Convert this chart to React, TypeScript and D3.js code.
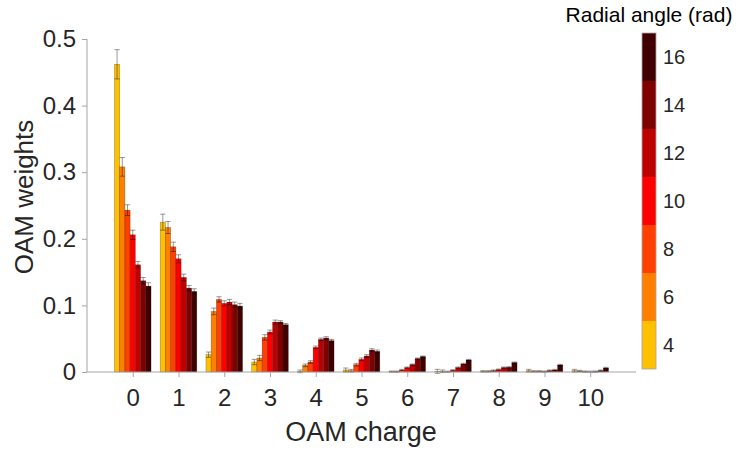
import { useEffect, useRef } from 'react';
import * as d3 from 'd3';

// OAM charge categories and radial angles (rad) of the series
const charges = [0, 1, 2, 3, 4, 5, 6, 7, 8, 9, 10];
const angles = [4, 6, 8, 10, 12, 14, 16];
const angleColors = ['#ffc000', '#ff8000', '#ff4000', '#ff0000', '#bf0000', '#800000', '#400000'];

// weights, one array per radial angle (indexed by charge)
const w4 = [0.462, 0.225, 0.026, 0.015, 0.001, 0.003, 0.0005, 0.001, 0.001, 0.002, 0.002];
const w6 = [0.308, 0.217, 0.091, 0.021, 0.01, 0.002, 0.0005, 0.001, 0.001, 0.001, 0.0015];
const w8 = [0.243, 0.188, 0.109, 0.052, 0.015, 0.011, 0.003, 0.0003, 0.002, 0.001, 0.0005];
const w10 = [0.206, 0.17, 0.103, 0.06, 0.037, 0.019, 0.0065, 0.0025, 0.0035, 0.0005, 0.0003];
const w12 = [0.161, 0.142, 0.105, 0.075, 0.049, 0.024, 0.011, 0.0065, 0.0065, 0.002, 0.0005];
const w14 = [0.137, 0.126, 0.101, 0.075, 0.051, 0.033, 0.02, 0.012, 0.007, 0.003, 0.002];
const w16 = [0.129, 0.121, 0.099, 0.071, 0.047, 0.031, 0.023, 0.018, 0.014, 0.0105, 0.006];

// error bar half-heights
const e4 = [0.022, 0.012, 0.004, 0.004, 0.002, 0.003, 0.001, 0.003, 0.001, 0.002, 0.002];
const e6 = [0.014, 0.009, 0.005, 0.004, 0.002, 0.002, 0.001, 0.002, 0.001, 0.001, 0.001];
const e8 = [0.008, 0.007, 0.004, 0.004, 0.002, 0.002, 0.001, 0.001, 0.001, 0.001, 0.001];
const e10 = [0.007, 0.006, 0.004, 0.003, 0.002, 0.002, 0.001, 0.001, 0.001, 0.001, 0.001];
const e12 = [0.005, 0.005, 0.004, 0.003, 0.002, 0.002, 0.001, 0.001, 0.001, 0.001, 0.001];
const e14 = [0.005, 0.004, 0.004, 0.002, 0.002, 0.002, 0.001, 0.001, 0.001, 0.001, 0.001];
const e16 = [0.005, 0.004, 0.004, 0.002, 0.002, 0.002, 0.001, 0.001, 0.001, 0.001, 0.001];

const weights = [w4, w6, w8, w10, w12, w14, w16];
const errors = [e4, e6, e8, e10, e12, e14, e16];

const yTicks = [0, 0.1, 0.2, 0.3, 0.4, 0.5];
const cbTicks = [4, 6, 8, 10, 12, 14, 16];

const FONT = '"Liberation Sans", Arial, Helvetica, sans-serif';
const TEXT = '#262626';
const AXIS = '#a6a6a6';

export default function App() {
  const svgRef = useRef<SVGSVGElement>(null);

  useEffect(() => {
    if (!svgRef.current) return;
    const svg = d3.select(svgRef.current);
    svg.selectAll('*').remove();

    const x = d3.scaleLinear().domain([-1, 11]).range([87, 636]);
    const y = d3.scaleLinear().domain([0, 0.5]).range([372, 39]);
    const groupW = 0.8;
    const barW = groupW / angles.length;
    const unit = x(1) - x(0);

    const g = svg.append('g');

    // bars
    angles.forEach((a, si) => {
      const layer = g.append('g');
      charges.forEach((c, ci) => {
        const x0 = x(c - groupW / 2 + si * barW);
        const v = weights[si][ci];
        layer.append('rect')
          .attr('x', x0)
          .attr('y', y(v))
          .attr('width', barW * unit)
          .attr('height', y(0) - y(v))
          .attr('fill', angleColors[si])
          .attr('stroke', '#000')
          .attr('stroke-opacity', 0.35)
          .attr('stroke-width', 0.6);
      });
    });

    // error bars
    angles.forEach((a, si) => {
      charges.forEach((c, ci) => {
        const cx = x(c - groupW / 2 + (si + 0.5) * barW);
        const v = weights[si][ci];
        const e = errors[si][ci];
        const hw = barW * unit * 0.5;
        const eb = g.append('g')
          .attr('stroke', '#000')
          .attr('stroke-opacity', 0.4)
          .attr('stroke-width', 1);
        eb.append('line').attr('x1', cx).attr('x2', cx).attr('y1', y(v - e)).attr('y2', y(v + e));
        eb.append('line').attr('x1', cx - hw).attr('x2', cx + hw).attr('y1', y(v + e)).attr('y2', y(v + e));
        eb.append('line').attr('x1', cx - hw).attr('x2', cx + hw).attr('y1', y(v - e)).attr('y2', y(v - e));
      });
    });

    // axes
    const xAxis = g.append('g')
      .attr('transform', `translate(0, ${y(0)})`)
      .call(d3.axisBottom(x).tickValues(charges).tickSize(5).tickPadding(12).tickFormat((d) => `${d}`));
    xAxis.select('.domain').attr('stroke', AXIS).attr('d', `M${x(-1)},0H${x(11)}`);
    xAxis.selectAll('.tick line').attr('stroke', AXIS);
    xAxis.selectAll('text')
      .attr('fill', TEXT)
      .attr('font-size', 24)
      .attr('font-family', FONT);

    const yAxis = g.append('g')
      .attr('transform', `translate(${x(-1)}, 0)`)
      .call(d3.axisLeft(y).tickValues(yTicks).tickSize(5).tickPadding(6).tickFormat((d) => `${d}`));
    yAxis.select('.domain').attr('stroke', AXIS).attr('d', `M0,${y(0.5)}V${y(0)}`);
    yAxis.selectAll('.tick line').attr('stroke', AXIS);
    yAxis.selectAll('text')
      .attr('fill', TEXT)
      .attr('font-size', 24)
      .attr('font-family', FONT);

    g.append('text')
      .attr('x', 361)
      .attr('y', 441)
      .attr('text-anchor', 'middle')
      .attr('font-size', 27)
      .attr('font-family', FONT)
      .attr('fill', TEXT)
      .text('OAM charge');

    g.append('text')
      .attr('transform', `translate(33, 197) rotate(-90)`)
      .attr('text-anchor', 'middle')
      .attr('font-size', 26)
      .attr('font-family', FONT)
      .attr('fill', TEXT)
      .text('OAM weights');

    // colorbar
    const cb = d3.scaleLinear().domain([3, 17]).range([369, 33]);
    const cbX = 642;
    const cbW = 14;
    const cbG = svg.append('g');
    angles.forEach((a, i) => {
      cbG.append('rect')
        .attr('x', cbX)
        .attr('y', cb(a + 1))
        .attr('width', cbW)
        .attr('height', cb(a - 1) - cb(a + 1))
        .attr('fill', angleColors[i]);
    });
    cbG.append('rect')
      .attr('x', cbX)
      .attr('y', cb(17))
      .attr('width', cbW)
      .attr('height', cb(3) - cb(17))
      .attr('fill', 'none')
      .attr('stroke', AXIS)
      .attr('stroke-width', 0.8);
    cbTicks.forEach((t) => {
      cbG.append('text')
        .attr('x', cbX + cbW + 7)
        .attr('y', cb(t))
        .attr('dy', '0.35em')
        .attr('font-size', 20)
        .attr('font-family', FONT)
        .attr('fill', TEXT)
        .text(t);
    });
    cbG.append('text')
      .attr('x', cbX + cbW / 2)
      .attr('y', 22)
      .attr('text-anchor', 'middle')
      .attr('font-size', 21)
      .attr('font-family', FONT)
      .attr('fill', '#000')
      .text('Radial angle (rad)');
  }, []);

  return (
    <svg
      ref={svgRef}
      width={736}
      height={449}
      style={{ position: 'absolute', left: 0, top: 0, background: '#fff' }}
    />
  );
}
